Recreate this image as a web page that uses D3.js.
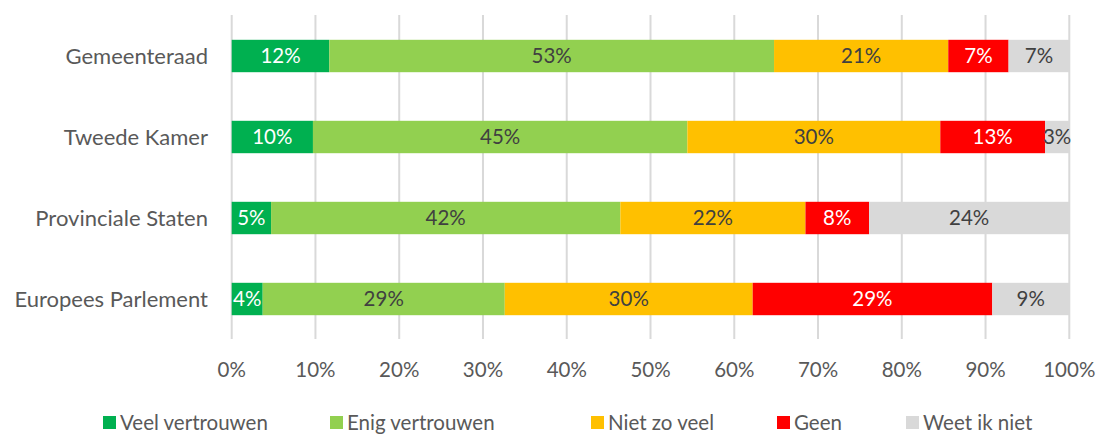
<!DOCTYPE html>
<html>
<head>
<meta charset="utf-8">
<script src="https://cdn.jsdelivr.net/npm/d3@7"></script>
<style>
  body { margin: 0; background: #fff; }
  svg { display: block; font-family: Lato, "Open Sans", sans-serif; }
</style>
</head>
<body>
<svg width="1097" height="437"></svg>
<script>
// data, gelezen van de plaatjes (percentages per bestuurslaag)
var categories = ["Gemeenteraad", "Tweede Kamer", "Provinciale Staten", "Europees Parlement"];
var seriesNames = ["Veel vertrouwen", "Enig vertrouwen", "Niet zo veel", "Geen", "Weet ik niet"];
var veel   = [11.65, 9.7, 4.7, 3.7];
var enig   = [53.1, 44.7, 41.7, 28.9];
var nietZo = [20.8, 30.2, 22.1, 29.6];
var geen   = [7.2, 12.5, 7.6, 28.6];
var weetNiet = [7.25, 2.9, 23.9, 9.2];
var tickValues = [0, 10, 20, 30, 40, 50, 60, 70, 80, 90, 100];

var colors = ["#00B050", "#92D050", "#FFC000", "#FF0000", "#D9D9D9"];
var labelColors = ["#ffffff", "#404040", "#404040", "#ffffff", "#404040"];

var svg = d3.select("svg");

var x = d3.scaleLinear().domain([0, 100]).range([231.7, 1069.3]);
var y = d3.scaleBand().domain(categories).range([15.5, 339.5]).paddingInner(0.6).paddingOuter(0.3);

// tabel maken voor de stack
var table = categories.map(function (c, i) {
  return { cat: c, s0: veel[i], s1: enig[i], s2: nietZo[i], s3: geen[i], s4: weetNiet[i] };
});
var stack = d3.stack().keys(["s0", "s1", "s2", "s3", "s4"]);
var layers = stack(table);

// gridlijnen
svg.append("g")
  .selectAll("line")
  .data(tickValues)
  .enter().append("line")
  .attr("x1", function (d) { return x(d); })
  .attr("x2", function (d) { return x(d); })
  .attr("y1", 15)
  .attr("y2", 339)
  .attr("stroke", "#D9D9D9")
  .attr("stroke-width", 2);

// balken
var groups = svg.append("g")
  .selectAll("g")
  .data(layers)
  .enter().append("g")
  .attr("fill", function (d, i) { return colors[i]; });

groups.selectAll("rect")
  .data(function (d) { return d; })
  .enter().append("rect")
  .attr("x", function (d) { return x(d[0]); })
  .attr("width", function (d) { return x(d[1]) - x(d[0]); })
  .attr("y", function (d) { return y(d.data.cat); })
  .attr("height", y.bandwidth());

// labels in de balken
groups.each(function (layer, li) {
  d3.select(this).selectAll("text")
    .data(layer)
    .enter().append("text")
    .attr("x", function (d) { return (x(d[0]) + x(d[1])) / 2; })
    .attr("y", function (d) { return y(d.data.cat) + y.bandwidth() / 2; })
    .attr("dy", "0.36em")
    .attr("text-anchor", "middle")
    .attr("font-size", 20.5)
    .attr("fill", labelColors[li])
    .text(function (d) { return Math.round(d[1] - d[0]) + "%"; });
});

// categorie labels
svg.append("g")
  .selectAll("text")
  .data(categories)
  .enter().append("text")
  .attr("x", 208)
  .attr("y", function (d) { return y(d) + y.bandwidth() / 2; })
  .attr("dy", "0.36em")
  .attr("text-anchor", "end")
  .attr("font-size", 22)
  .attr("fill", "#595959")
  .text(function (d) { return d; });

// x-as labels
svg.append("g")
  .selectAll("text")
  .data(tickValues)
  .enter().append("text")
  .attr("x", function (d) { return x(d); })
  .attr("y", 370)
  .attr("dy", "0.36em")
  .attr("text-anchor", "middle")
  .attr("font-size", 20.5)
  .attr("fill", "#595959")
  .text(function (d) { return d + "%"; });

// legenda (iets hoger zodat de onderkant van de letters niet wegvalt)
var legendX = [103, 330, 591, 777, 906];
var legend = svg.append("g")
  .selectAll("g")
  .data(seriesNames)
  .enter().append("g")
  .attr("transform", function (d, i) { return "translate(" + legendX[i] + ",416)"; });

legend.append("rect")
  .attr("width", 13)
  .attr("height", 13)
  .attr("fill", function (d, i) { return colors[i]; });

legend.append("text")
  .attr("x", 17)
  .attr("y", 7)
  .attr("dy", "0.36em")
  .attr("font-size", 20.5)
  .attr("fill", "#595959")
  .text(function (d) { return d; });
</script>
</body>
</html>
